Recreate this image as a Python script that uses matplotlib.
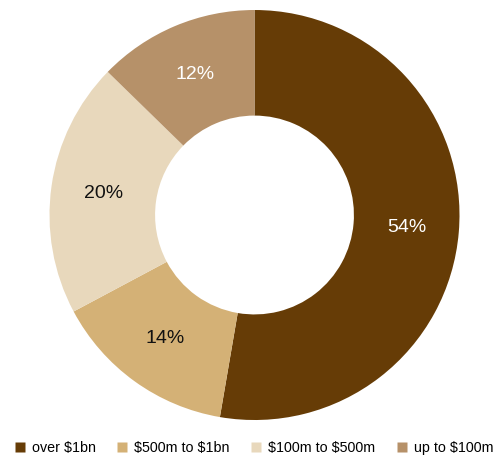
import matplotlib
matplotlib.use("Agg")
import matplotlib.pyplot as plt
from matplotlib.lines import Line2D

# Data read from the chart (wedge sizes measured from the drawn angles,
# labels as printed on the chart)
categories = ["over \\$1bn", "\\$500m to \\$1bn", "\\$100m to \\$500m", "up to \\$100m"]
shares = [52.7, 14.5, 20.1, 12.7]
pct_labels = ["54%", "14%", "20%", "12%"]
colors = ["#663c06", "#d4b176", "#e8d8bc", "#b69169"]
label_colors = ["white", "#111111", "#111111", "white"]

plt.rcParams['font.family'] = ['Liberation Sans', 'DejaVu Sans']

fig = plt.figure(figsize=(5, 4.55), dpi=100)
ax = fig.add_axes([0.099, 0.0769, 0.82, 0.9011])

wedges, texts = ax.pie(
    shares, colors=colors, startangle=90, counterclock=False,
    labels=pct_labels, labeldistance=0.745,
    wedgeprops=dict(width=0.515, edgecolor="none"),
    radius=1.0)

for t, c in zip(texts, label_colors):
    t.set_color(c)
    t.set_fontsize(14)
    t.set_ha("center")
    t.set_va("center")

ax.set_xlim(-1, 1)
ax.set_ylim(-1, 1)
ax.set_aspect("equal")
ax.axis("off")

handles = [Line2D([0], [0], marker="s", linestyle="none", markersize=7,
                  markerfacecolor=c, markeredgecolor="none") for c in colors]
fig.legend(handles, categories, loc="center", ncol=4,
           bbox_to_anchor=(0.509, 0.016), frameon=False, fontsize=10.3,
           handlelength=0.6, handletextpad=0.55, columnspacing=1.55,
           borderpad=0, borderaxespad=0)

fig.savefig("out.png", dpi=100)
